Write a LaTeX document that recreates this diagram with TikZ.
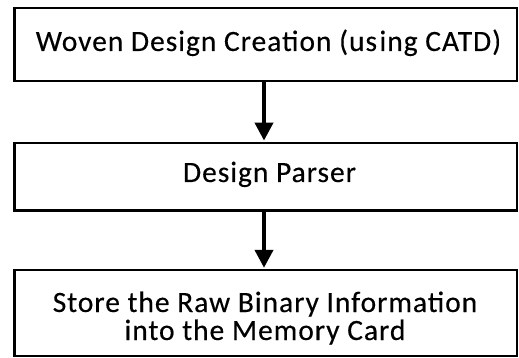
\documentclass[tikz,border=0pt]{standalone}
\usepackage{fontspec}
\setmainfont{Carlito}[LetterSpace=3.3,FakeBold=0.3]
\usetikzlibrary{arrows.meta}
\begin{document}
\begin{tikzpicture}[x=1pt,y=-1pt,
  stagebox/.style={draw=black,line width=2.4pt,inner sep=0pt,minimum width=502.5pt},
  caption/.style={anchor=base,inner sep=0pt,font=\fontsize{29.5}{34}\selectfont},
  flow/.style={line width=4pt,-{Triangle[length=18pt,width=18pt]},shorten >=1pt}]
  \useasboundingbox (0,0) rectangle (519,358);
  % stage boxes
  \node[stagebox,minimum height=73pt] (b1) at (265.75,44.7) {};
  \node[stagebox,minimum height=67.7pt] (b2) at (265.75,176.65) {};
  \node[stagebox,minimum height=86pt] (b3) at (265.75,313) {};
  % captions
  \node[caption] (t1) at (268.5,51) {Woven Design Creation (us\hspace{2.5pt}ing CATD)};
  \node[caption] (t2) at (269.5,182) {Design Parser};
  \node[caption] (t3a) at (265,312) {Store the Raw Binary Information};
  \node[caption] (t3b) at (265,340) {into the Memory Card};
  % flow arrows
  \draw[flow] ([xshift=-1.75pt]b1.south) -- ([xshift=-1.75pt]b2.north);
  \draw[flow] ([xshift=-1.75pt]b2.south) -- ([xshift=-1.75pt]b3.north);
\end{tikzpicture}
\end{document}
